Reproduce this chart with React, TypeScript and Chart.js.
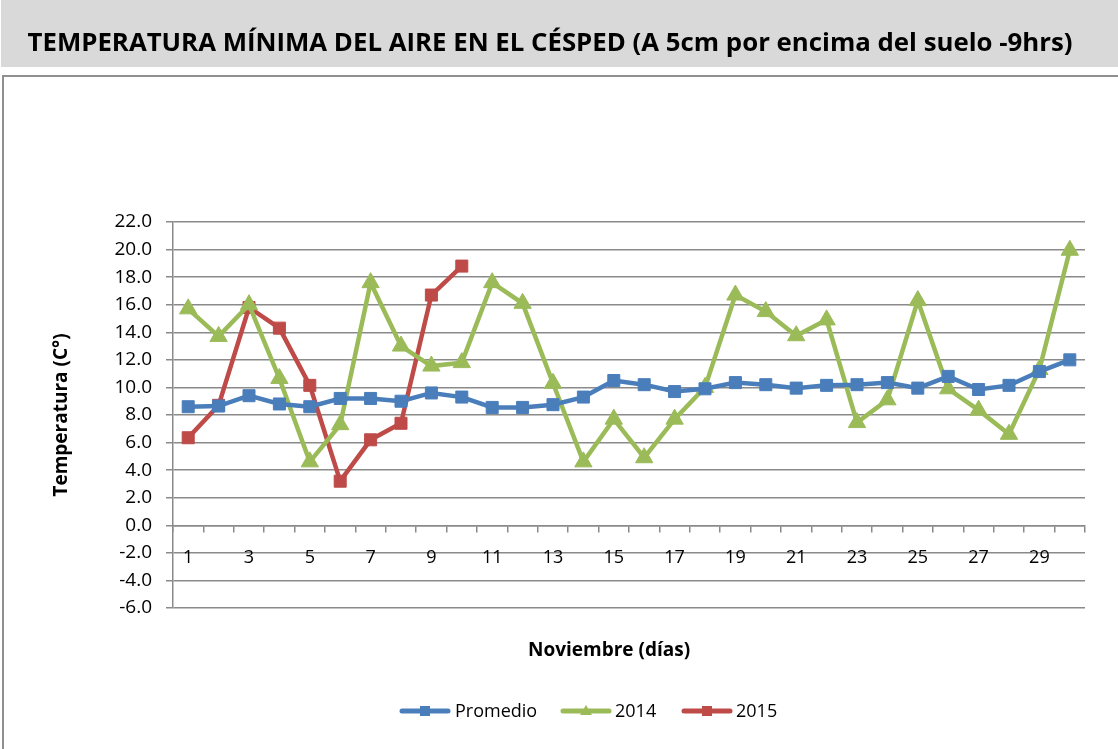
import React, { useEffect, useRef } from "react";
import { Chart, registerables } from "chart.js";

Chart.register(...registerables);

const TITLE = "TEMPERATURA MÍNIMA DEL AIRE EN EL CÉSPED (A 5cm por encima del suelo -9hrs)";
const X_TITLE = "Noviembre (días)";
const Y_TITLE = "Temperatura (C°)";

const days = [
  "1", "2", "3", "4", "5", "6", "7", "8", "9", "10",
  "11", "12", "13", "14", "15", "16", "17", "18", "19", "20",
  "21", "22", "23", "24", "25", "26", "27", "28", "29", "30",
];

const promedio = [
  8.6, 8.65, 9.4, 8.8, 8.6, 9.2, 9.2, 9.0, 9.6, 9.3,
  8.55, 8.55, 8.75, 9.3, 10.5, 10.2, 9.7, 9.9, 10.35, 10.2,
  9.95, 10.15, 10.2, 10.35, 9.95, 10.8, 9.85, 10.15, 11.15, 12.0,
];

const serie2014 = [
  15.7, 13.7, 16.0, 10.65, 4.6, 7.3, 17.6, 13.0, 11.55, 11.8,
  17.6, 16.1, 10.3, 4.6, 7.7, 4.9, 7.7, 10.0, 16.7, 15.5,
  13.75, 14.9, 7.45, 9.1, 16.3, 9.9, 8.35, 6.6, 11.3, 19.95,
];

const serie2015: (number | null)[] = [
  6.35, 8.7, 15.8, 14.3, 10.15, 3.2, 6.2, 7.4, 16.7, 18.8,
  null, null, null, null, null, null, null, null, null, null,
  null, null, null, null, null, null, null, null, null, null,
];

const Y_MIN = -6;
const Y_MAX = 22;
const Y_STEP = 2;

const BLUE = "#4a7ebb";
const GREEN = "#9bbb59";
const RED = "#be4b48";
const GRID = "#8a8a8a";
const FONT = "'Open Sans', Lato, sans-serif";

const W = 1118;
const H = 749;

const legendItems = [
  { label: "Promedio", color: BLUE, marker: "rect", lx: 400, tx: 455 },
  { label: "2014", color: GREEN, marker: "triangle", lx: 561, tx: 615 },
  { label: "2015", color: RED, marker: "rect", lx: 682, tx: 736 },
];

const framePlugin = {
  id: "frame",
  beforeDraw(chart: any) {
    const ctx = chart.ctx;
    ctx.save();
    ctx.fillStyle = "#ffffff";
    ctx.fillRect(0, 0, W, H);
    ctx.fillStyle = "#d9d9d9";
    ctx.fillRect(1, 0, W - 1, 67);
    ctx.strokeStyle = "#8f8f8f";
    ctx.lineWidth = 2;
    ctx.beginPath();
    ctx.moveTo(3, H);
    ctx.lineTo(3, 76);
    ctx.lineTo(W, 76);
    ctx.stroke();
    ctx.fillStyle = "#000000";
    ctx.font = `bold 25.8px ${FONT}`;
    ctx.textAlign = "center";
    ctx.textBaseline = "alphabetic";
    ctx.fillText(TITLE, 550, 51);
    ctx.restore();
  },
  afterDraw(chart: any) {
    const ctx = chart.ctx;
    ctx.save();
    ctx.fillStyle = "#000000";
    ctx.font = `bold 19px ${FONT}`;
    ctx.textAlign = "center";
    ctx.textBaseline = "middle";
    ctx.fillText(X_TITLE, 609, 651);

    const ly = 711;
    ctx.font = `18px ${FONT}`;
    ctx.textAlign = "left";
    for (const it of legendItems) {
      ctx.strokeStyle = it.color;
      ctx.lineWidth = 5;
      ctx.lineCap = "round";
      ctx.beginPath();
      ctx.moveTo(it.lx + 2, ly);
      ctx.lineTo(it.lx + 48, ly);
      ctx.stroke();
      const cx = it.lx + 25;
      ctx.fillStyle = it.color;
      if (it.marker === "rect") {
        ctx.fillRect(cx - 5, ly - 5, 10, 10);
      } else {
        ctx.beginPath();
        ctx.moveTo(cx, ly - 6);
        ctx.lineTo(cx + 6, ly + 4);
        ctx.lineTo(cx - 6, ly + 4);
        ctx.closePath();
        ctx.fill();
      }
      ctx.fillStyle = "#000000";
      ctx.fillText(it.label, it.tx, ly + 1);
    }
    ctx.restore();
  },
};

export default function App() {
  const ref = useRef<HTMLCanvasElement | null>(null);

  useEffect(() => {
    if (!ref.current) return;
    const chart = new Chart(ref.current, {
      type: "line",
      data: {
        labels: days,
        datasets: [
          {
            label: "Promedio",
            data: promedio,
            borderColor: BLUE,
            backgroundColor: BLUE,
            borderWidth: 4.5,
            pointStyle: "rect",
            pointRadius: 8.5,
            pointBorderWidth: 1,
            pointBackgroundColor: BLUE,
            pointBorderColor: BLUE,
            tension: 0,
          },
          {
            label: "2014",
            data: serie2014,
            borderColor: GREEN,
            backgroundColor: GREEN,
            borderWidth: 4.5,
            pointStyle: "triangle",
            pointRadius: 10,
            pointBorderWidth: 1,
            pointBackgroundColor: GREEN,
            pointBorderColor: GREEN,
            tension: 0,
          },
          {
            label: "2015",
            data: serie2015,
            borderColor: RED,
            backgroundColor: RED,
            borderWidth: 4.5,
            pointStyle: "rect",
            pointRadius: 8.5,
            pointBorderWidth: 1,
            pointBackgroundColor: RED,
            pointBorderColor: RED,
            tension: 0,
            spanGaps: false,
          },
        ],
      },
      options: {
        responsive: false,
        animation: false,
        devicePixelRatio: 1,
        layout: { padding: { left: 0, top: 222, right: W - 1085, bottom: H - 608 } },
        plugins: {
          legend: { display: false },
          tooltip: { enabled: false },
          title: { display: false },
        },
        scales: {
          x: {
            type: "category",
            position: { y: 0 } as any,
            offset: true,
            grid: {
              display: true,
              drawOnChartArea: false,
              drawTicks: true,
              tickLength: 6,
              offset: true,
              color: GRID,
              lineWidth: 1.5,
            },
            border: { display: true, color: GRID, width: 1.5 },
            ticks: {
              autoSkip: false,
              maxRotation: 0,
              minRotation: 0,
              padding: 16,
              color: "#000000",
              font: { family: FONT, size: 18 },
              callback: (_v: any, i: number) => (i % 2 === 0 ? days[i] : ""),
            },
          },
          y: {
            type: "linear",
            min: Y_MIN,
            max: Y_MAX,
            afterFit: (s: any) => {
              s.width = 173;
            },
            grid: {
              color: GRID,
              lineWidth: 1.5,
              drawTicks: true,
              tickLength: 7,
            },
            border: { display: true, color: GRID, width: 1.5 },
            ticks: {
              stepSize: Y_STEP,
              padding: 14,
              color: "#000000",
              font: { family: FONT, size: 19 },
              callback: (v: any) => Number(v).toFixed(1),
            },
            title: {
              display: true,
              text: Y_TITLE,
              color: "#000000",
              font: { family: FONT, size: 19, weight: "bold" },
              padding: { top: 50, bottom: 0 },
            },
          },
        },
      },
      plugins: [framePlugin],
    });
    return () => chart.destroy();
  }, []);

  return (
    <div style={{ position: "absolute", left: 0, top: 0, width: W, height: H, overflow: "hidden", background: "#fff" }}>
      <canvas ref={ref} width={W} height={H} style={{ display: "block", width: W, height: H }} />
    </div>
  );
}
